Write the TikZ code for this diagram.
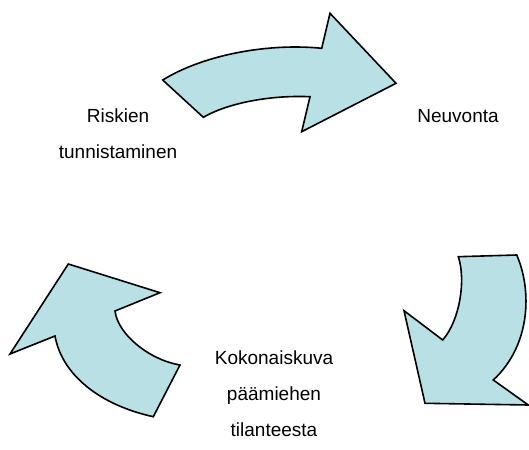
\documentclass[tikz,border=0pt]{standalone}
\usepackage{fontspec}
\setmainfont{Liberation Sans}
\definecolor{arrowfill}{RGB}{185,224,228}
\tikzset{
	bentarrow/.style={draw=black, fill=arrowfill, line width=1.6pt},
	steplabel/.style={align=center, font=\fontsize{19}{36}\selectfont, inner sep=0pt}
}
\begin{document}
\begin{tikzpicture}[x=1pt,y=-1pt]
		\useasboundingbox (0,0) rectangle (529,449);
		% the three steps
		\node[steplabel] (riski) at (118,134) {Riskien\\tunnistaminen};
		\node[steplabel] (neuvo) at (458,116) {Neuvonta};
		\node[steplabel] (kuva) at (274,394) {Kokonaiskuva\\päämiehen\\tilanteesta};
		% top arrow
		\draw[bentarrow] (162.7,80) -- (203.3,117.3)
			.. controls (228,103) and (270,95) .. (310,96.7)
			-- (301.7,131.7) -- (396,83.3) -- (330,13.3) -- (321.7,48.3)
			.. controls (270,43) and (205,54) .. (162.7,80) -- cycle;
		% right arrow
		\draw[bentarrow] (458.3,256.7) -- (516.7,255)
			.. controls (532,290) and (531,345) .. (493.3,380)
			-- (528.3,405) -- (425,403.3) -- (404,310.7) -- (442.7,340)
			.. controls (460,320) and (466,280) .. (458.3,256.7) -- cycle;
		% left arrow
		\draw[bentarrow] (68.3,264) -- (160,292.7) -- (115,311)
			.. controls (118,335) and (150,360) .. (180,365)
			-- (153.3,416.7)
			.. controls (100,405) and (62,375) .. (55,336)
			-- (10,354) -- cycle;
	\end{tikzpicture}
\end{document}
